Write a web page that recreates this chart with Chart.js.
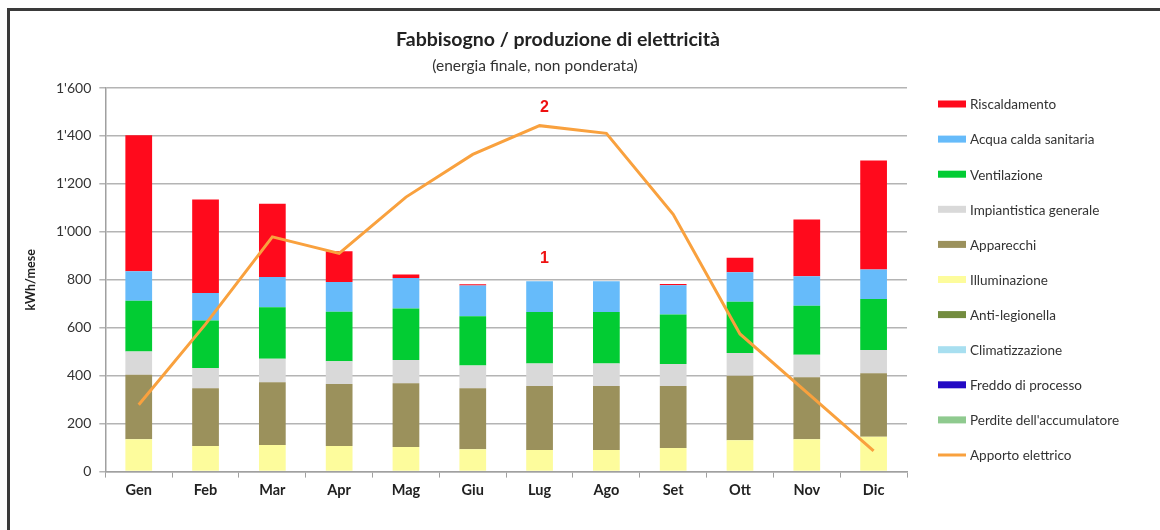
<!DOCTYPE html>
<html lang="it">
<head>
<meta charset="utf-8">
<title>Fabbisogno / produzione di elettricità</title>
<script src="https://cdn.jsdelivr.net/npm/chart.js@4"></script>
<style>
  html, body { margin: 0; padding: 0; background: #fff; }
  .wrap { position: relative; width: 1160px; height: 530px; overflow: hidden; }
  .frame { position: absolute; left: 7px; top: 8px; width: 1200px; height: 600px;
           border-top: 3px solid #3a3a3a; border-left: 3px solid #3a3a3a; pointer-events: none; }
</style>
</head>
<body>
<div class="wrap">
  <canvas id="chart"></canvas>
  <div class="frame"></div>
</div>
<script>
// mesi
const months = ['Gen', 'Feb', 'Mar', 'Apr', 'Mag', 'Giu', 'Lug', 'Ago', 'Set', 'Ott', 'Nov', 'Dic'];

// fabbisogno per voce, kWh/mese (dal basso verso l'alto nella colonna)
const illuminazione  = [135, 107, 111, 107, 103,  93,  90,  90,  98, 131, 135, 145];
const apparecchi     = [269, 241, 262, 258, 265, 255, 267, 267, 259, 269, 259, 265];
const impiantistica  = [ 97,  84,  98,  95,  97,  95,  94,  94,  92,  95,  93,  97];
const ventilazione   = [212, 198, 214, 207, 215, 205, 215, 215, 206, 213, 205, 213];
const acquaCalda     = [123, 115, 127, 124, 128, 128, 128, 128, 122, 124, 123, 123];
const riscaldamento  = [567, 390, 305, 128,  14,   5,   0,   0,   6,  60, 237, 455];
const antiLegionella = [0, 0, 0, 0, 0, 0, 0, 0, 0, 0, 0, 0];
const climatizzazione = [0, 0, 0, 0, 0, 0, 0, 0, 0, 0, 0, 0];
const freddoProcesso = [0, 0, 0, 0, 0, 0, 0, 0, 0, 0, 0, 0];
const perditeAccum   = [0, 0, 0, 0, 0, 0, 0, 0, 0, 0, 0, 0];

// produzione
const apportoElettrico = [279, 615, 979, 910, 1145, 1323, 1443, 1411, 1073, 574, 330, 86];

// asse y
const yMax = 1600;
const yStep = 200;

// ordine delle voci in legenda
const legendOrder = ['Riscaldamento', 'Acqua calda sanitaria', 'Ventilazione', 'Impiantistica generale',
  'Apparecchi', 'Illuminazione', 'Anti-legionella', 'Climatizzazione', 'Freddo di processo',
  "Perdite dell'accumulatore", 'Apporto elettrico'];

const FONT = 'Lato, "Open Sans", sans-serif';

function fmt(v) {
  if (v < 1000) return String(v);
  return Math.floor(v / 1000) + "'" + String(v % 1000).padStart(3, '0');
}

function bar(label, data, color) {
  return { type: 'bar', label: label, data: data, backgroundColor: color, borderWidth: 0, stack: 'fabbisogno' };
}

// titolo, sottotitolo, marcatori 1 / 2 e legenda a destra
const overlay = {
  id: 'overlay',
  afterDraw(chart) {
    const c = chart.ctx;
    const x = chart.scales.x;
    const y = chart.scales.y;
    c.save();
    c.textAlign = 'center';
    c.textBaseline = 'middle';
    c.fillStyle = '#222';
    c.font = 'bold 19.5px ' + FONT;
    c.fillText('Fabbisogno / produzione di elettricità', 558, 40);
    c.font = '15.5px ' + FONT;
    c.fillStyle = '#333';
    c.fillText('(energia finale, non ponderata)', 535, 66);

    c.fillStyle = '#ee1111';
    c.font = 'bold 16px "Liberation Sans", Arial, sans-serif';
    const lx = x.getPixelForValue(6) + 5;
    c.fillText('2', lx, y.getPixelForValue(1517));
    c.fillText('1', lx, y.getPixelForValue(890));

    // legenda
    const sets = chart.data.datasets.slice().sort(
      (a, b) => legendOrder.indexOf(a.label) - legendOrder.indexOf(b.label));
    const lx0 = chart.chartArea.right + 31;
    c.textAlign = 'left';
    c.font = '13.5px ' + FONT;
    sets.forEach((ds, i) => {
      const ly = 104 + i * 35.1;
      if (ds.type === 'line') {
        c.fillStyle = ds.borderColor;
        c.fillRect(lx0, ly - 1.5, 28, 3);
      } else {
        c.fillStyle = ds.backgroundColor;
        c.fillRect(lx0, ly - 3.5, 28, 7);
      }
      c.fillStyle = '#333';
      c.fillText(ds.label, lx0 + 32, ly + 1);
    });
    c.restore();
  }
};

const ctx = document.getElementById('chart').getContext('2d');
new Chart(ctx, {
  data: {
    labels: months,
    datasets: [
      bar('Illuminazione', illuminazione, '#fdfc9c'),
      bar('Apparecchi', apparecchi, '#9b915c'),
      bar('Impiantistica generale', impiantistica, '#d9d9d9'),
      bar('Ventilazione', ventilazione, '#02cc33'),
      bar('Acqua calda sanitaria', acquaCalda, '#66bbfa'),
      bar('Riscaldamento', riscaldamento, '#ff0a1c'),
      bar('Anti-legionella', antiLegionella, '#738c3f'),
      bar('Climatizzazione', climatizzazione, '#a8dff0'),
      bar('Freddo di processo', freddoProcesso, '#2309c4'),
      bar("Perdite dell'accumulatore", perditeAccum, '#8fca8f'),
      {
        type: 'line',
        label: 'Apporto elettrico',
        data: apportoElettrico,
        borderColor: '#f9a13e',
        backgroundColor: '#f9a13e',
        borderWidth: 3,
        pointRadius: 0,
        tension: 0,
        stack: 'apporto',
        order: -1
      }
    ]
  },
  options: {
    responsive: true,
    maintainAspectRatio: false,
    animation: false,
    layout: { padding: { top: 88, left: 23, right: 253, bottom: 27 } },
    datasets: { bar: { barPercentage: 0.4, categoryPercentage: 1 } },
    plugins: {
      title: { display: false },
      tooltip: { enabled: false },
      legend: { display: false }
    },
    scales: {
      x: {
        stacked: true,
        grid: { display: true, drawOnChartArea: false, drawTicks: true, tickLength: 6, color: '#a0a0a0' },
        border: { color: '#a0a0a0', width: 1.5 },
        ticks: { color: '#222', padding: 4, font: { family: FONT, size: 14.5, weight: 'bold' } }
      },
      y: {
        stacked: true,
        min: 0,
        max: yMax,
        ticks: {
          stepSize: yStep,
          color: '#333',
          padding: 8,
          font: { family: FONT, size: 14 },
          callback: v => fmt(v)
        },
        grid: { color: '#b4b4b4', lineWidth: 1.5, tickLength: 6 },
        border: { color: '#a0a0a0', width: 1.5 },
        title: {
          display: true,
          text: 'kWh/mese',
          color: '#222',
          padding: { top: 0, bottom: 10 },
          font: { family: FONT, size: 12.5, weight: 'bold' }
        }
      }
    }
  },
  plugins: [overlay]
});
</script>
</body>
</html>
